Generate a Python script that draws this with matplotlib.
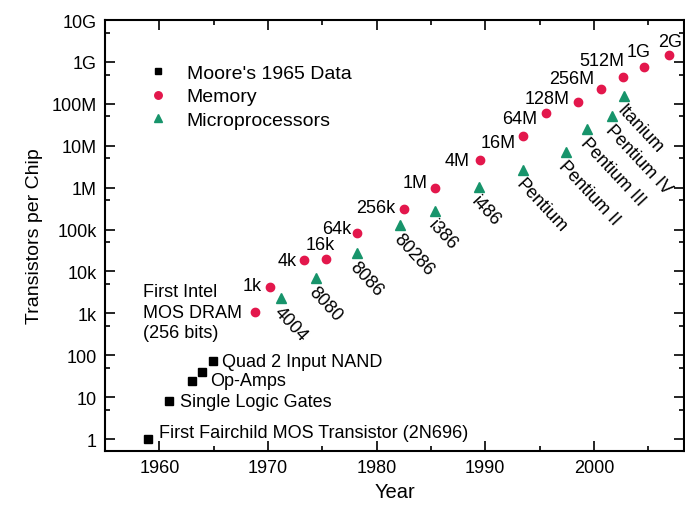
import numpy as np
import matplotlib.pyplot as plt
from matplotlib.ticker import LogLocator, FixedLocator, MultipleLocator

plt.rcParams['font.family'] = ['Liberation Sans', 'DejaVu Sans']

# Moore's 1965 data
moore_years = [1959.0, 1960.9, 1963.0, 1963.9, 1964.9]
moore_counts = [1, 8, 24, 40, 72]
moore_labels = ["First Fairchild MOS Transistor (2N696)", "Single Logic Gates",
                "", "Op-Amps", "Quad 2 Input NAND"]

# memory chips
mem_years = [1968.8, 1970.2, 1973.3, 1975.3, 1978.2, 1982.5, 1985.4, 1989.5,
             1993.5, 1995.6, 1998.5, 2000.7, 2002.7, 2004.6, 2006.9]
mem_counts = [1.07e3, 4.3e3, 1.85e4, 2.0e4, 8.5e4, 3.1e5, 1.0e6, 4.6e6,
              1.7e7, 6.0e7, 1.1e8, 2.2e8, 4.4e8, 7.6e8, 1.45e9]
mem_labels = ["First Intel\nMOS DRAM\n(256 bits)", "1k", "4k", "16k", "64k",
              "256k", "1M", "4M", "16M", "64M", "128M", "256M", "512M", "1G", "2G"]

# microprocessors
cpu_years = [1971.2, 1974.4, 1978.2, 1982.2, 1985.4, 1989.4, 1993.5,
             1997.4, 1999.4, 2001.7, 2002.8]
cpu_counts = [2.3e3, 6.9e3, 2.75e4, 1.28e5, 2.75e5, 1.03e6, 2.6e6,
              7.1e6, 2.5e7, 5.1e7, 1.5e8]
cpu_labels = ["4004", "8080", "8086", "80286", "i386", "i486", "Pentium",
              "Pentium II", "Pentium III", "Pentium IV", "Itanium"]

# label offsets in pixels (dx, dy), y up
mem_off = [(-112, 0), (-8, 1), (-7, 0), (9, 14), (-6, 4), (-8, 1), (-8, 5),
           (-10, -1), (-7, -6), (-9, -5), (-8, 4), (-7, 11), (1, 16), (7, 15),
           (13, 14)]
moore_off = [(11, 7), (11, 0), (0, 0), (8, -9), (9, 0)]

red = '#e3174c'
green = '#17946b'
fs = 13

fig = plt.figure(figsize=(6.85, 5.06), dpi=100)
ax = fig.add_axes([105/685, 54/506, 579/685, 431/506])

ax.plot(moore_years, moore_counts, 's', color='black', ms=5.5, ls='none',
        label="Moore's 1965 Data")
ax.plot(mem_years, mem_counts, 'o', color=red, ms=6, ls='none', label='Memory')
ax.plot(cpu_years, cpu_counts, '^', color=green, ms=6.5, ls='none',
        label='Microprocessors')

ax.set_yscale('log')
ax.set_xlim(1955, 2008.3)
ax.set_ylim(0.52, 1e10)

# memory labels
for x, y, s, (dx, dy) in zip(mem_years, mem_counts, mem_labels, mem_off):
    ax.annotate(s, (x, y), xytext=(dx, dy), textcoords='offset pixels',
                ha='left' if '\n' in s else 'right', va='center',
                fontsize=fs, linespacing=1.25, annotation_clip=False)

# cpu labels, rotated down-right
for x, y, s in zip(cpu_years, cpu_counts, cpu_labels):
    ax.annotate(s, (x, y), xytext=(2, -5), textcoords='offset pixels',
                ha='left', va='top', rotation=-47, rotation_mode='anchor',
                fontsize=fs)

# Moore's data labels
for x, y, s, (dx, dy) in zip(moore_years, moore_counts, moore_labels, moore_off):
    if s:
        ax.annotate(s, (x, y), xytext=(dx, dy), textcoords='offset pixels',
                    ha='left', va='center', fontsize=fs)

# ticks
ax.xaxis.set_major_locator(FixedLocator([1960, 1970, 1980, 1990, 2000]))
ax.xaxis.set_minor_locator(MultipleLocator(5))
ax.yaxis.set_minor_locator(LogLocator(base=10, subs=(5,), numticks=20))
yt = [1, 10, 100, 1e3, 1e4, 1e5, 1e6, 1e7, 1e8, 1e9, 1e10]
ytl = ['1', '10', '100', '1k', '10k', '100k', '1M', '10M', '100M', '1G', '10G']
ax.set_yticks(yt, labels=ytl)
ax.tick_params(which='both', direction='in', top=True, right=True,
               labelsize=fs, width=1.2)
ax.tick_params(which='major', length=7, pad=6)
ax.tick_params(which='minor', length=3.5)
ax.tick_params(axis='y', which='minor', labelleft=False)
for sp in ax.spines.values():
    sp.set_linewidth(1.5)

ax.set_xlabel('Year', fontsize=14.5, labelpad=4)
ax.set_ylabel('Transistors per Chip', fontsize=14, labelpad=6)

ax.legend(loc='upper left', bbox_to_anchor=(0.074, 0.898), frameon=False,
          fontsize=14, handlelength=1.0, handletextpad=1.0, labelspacing=0.32,
          borderpad=0, borderaxespad=0, markerscale=0.9)

fig.savefig('out.png', dpi=100)
